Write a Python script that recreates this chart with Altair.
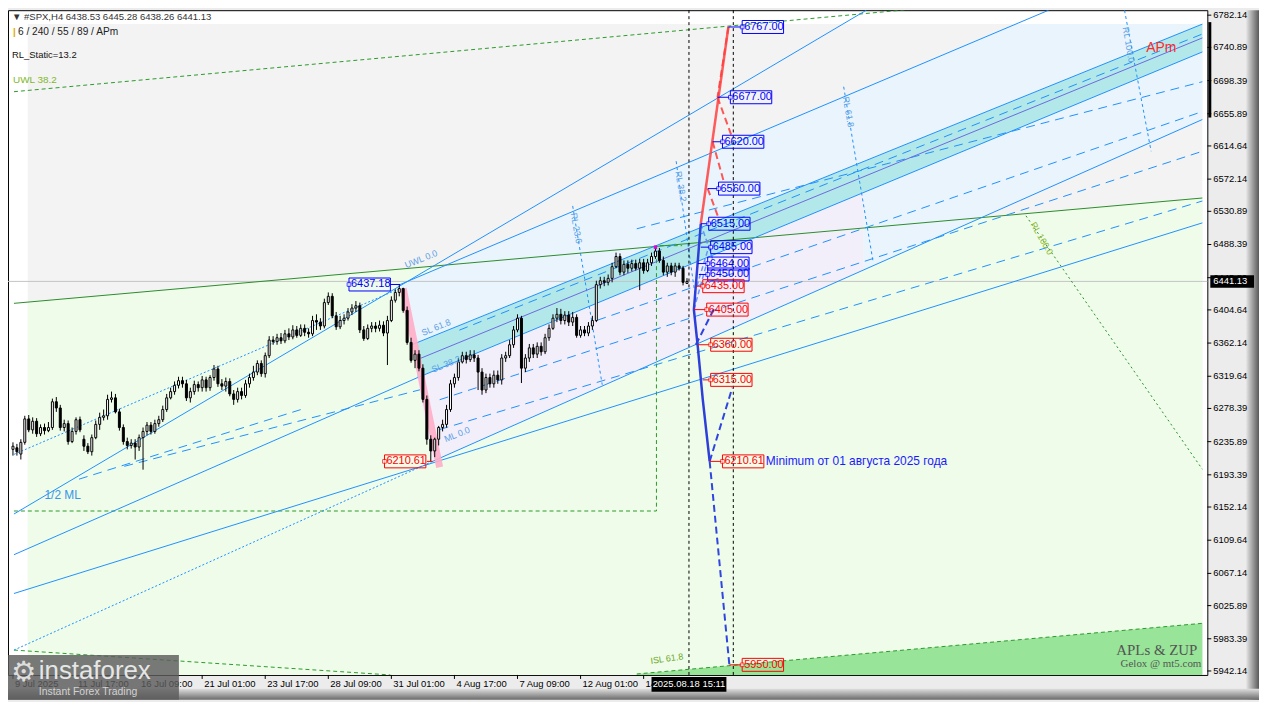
import altair as alt
import pandas as pd

# ---------------- candles: #SPX H4, bar index 0 = 9 Jul 2025 ----------------
opens = [6226, 6228, 6220, 6235, 6265, 6251, 6262, 6246, 6254, 6250,
         6254, 6287, 6279, 6254, 6259, 6236, 6249, 6264, 6239, 6230,
         6223, 6241, 6258, 6267, 6269, 6290, 6292, 6274, 6254, 6236,
         6231, 6234, 6229, 6241, 6249, 6257, 6249, 6259, 6264, 6277,
         6292, 6300, 6308, 6314, 6310, 6292, 6300, 6309, 6305, 6315,
         6305, 6318, 6329, 6310, 6307, 6313, 6297, 6290, 6300, 6295,
         6310, 6318, 6325, 6336, 6323, 6346, 6366, 6364, 6369, 6365,
         6374, 6370, 6379, 6372, 6381, 6376, 6374, 6391, 6389, 6384,
         6414, 6422, 6397, 6383, 6391, 6394, 6402, 6407, 6410, 6379,
         6368, 6381, 6384, 6381, 6385, 6375, 6391, 6417, 6427, 6432,
         6404, 6363, 6340, 6348, 6330, 6290, 6239, 6224, 6239, 6254,
         6258, 6277, 6310, 6318, 6338, 6346, 6341, 6347, 6343, 6325,
         6302, 6318, 6310, 6321, 6315, 6343, 6346, 6360, 6379, 6394,
         6330, 6343, 6356, 6348, 6358, 6351, 6369, 6381, 6394, 6399,
         6391, 6398, 6389, 6395, 6372, 6379, 6375, 6384, 6391, 6437,
         6442, 6440, 6445, 6460, 6473, 6453, 6463, 6458, 6464, 6458,
         6465, 6455, 6465, 6473, 6480, 6468, 6453, 6461, 6453, 6461,
         6458, 6438.53]
highs = [6235, 6233, 6239, 6269, 6270, 6267, 6266, 6258, 6259, 6261,
         6291, 6293, 6283, 6264, 6263, 6254, 6267, 6268, 6244, 6234,
         6245, 6263, 6273, 6277, 6296, 6300, 6297, 6278, 6258, 6241,
         6239, 6239, 6245, 6254, 6261, 6261, 6264, 6269, 6282, 6297,
         6305, 6313, 6319, 6319, 6315, 6305, 6314, 6313, 6320, 6319,
         6321, 6334, 6333, 6316, 6318, 6317, 6302, 6305, 6305, 6315,
         6323, 6333, 6340, 6340, 6350, 6371, 6371, 6374, 6375, 6379,
         6381, 6385, 6384, 6386, 6386, 6381, 6397, 6399, 6394, 6419,
         6427, 6426, 6402, 6397, 6399, 6407, 6412, 6416, 6414, 6384,
         6386, 6389, 6389, 6391, 6390, 6397, 6422, 6431, 6437.18, 6433,
         6409, 6369, 6353, 6353, 6335, 6295, 6244, 6241, 6256, 6264,
         6283, 6315, 6323, 6343, 6351, 6351, 6353, 6353, 6347, 6330,
         6323, 6323, 6327, 6327, 6348, 6351, 6366, 6384, 6399, 6397,
         6348, 6361, 6361, 6363, 6363, 6374, 6386, 6399, 6407, 6406,
         6403, 6403, 6402, 6399, 6384, 6384, 6389, 6397, 6442, 6447,
         6447, 6450, 6465, 6478, 6477, 6468, 6468, 6469, 6469, 6470,
         6470, 6470, 6478, 6485, 6484, 6473, 6465, 6465, 6465, 6465,
         6461, 6445.28]
lows = [6218, 6218, 6213, 6232, 6248, 6246, 6242, 6243, 6245, 6248,
        6251, 6274, 6250, 6249, 6232, 6234, 6245, 6248, 6224, 6220,
        6218, 6239, 6251, 6263, 6264, 6286, 6272, 6250, 6232, 6226,
        6227, 6213, 6224, 6200, 6244, 6245, 6246, 6255, 6261, 6274,
        6290, 6296, 6304, 6305, 6288, 6286, 6296, 6300, 6300, 6300,
        6301, 6314, 6306, 6302, 6300, 6294, 6283, 6286, 6290, 6292,
        6305, 6314, 6321, 6319, 6318, 6343, 6360, 6360, 6361, 6362,
        6366, 6367, 6369, 6370, 6371, 6369, 6371, 6379, 6379, 6381,
        6411, 6394, 6379, 6380, 6386, 6391, 6398, 6402, 6375, 6365,
        6366, 6376, 6376, 6377, 6371, 6334, 6389, 6414, 6422, 6401,
        6360, 6337, 6330, 6326, 6286, 6232, 6210.61, 6216, 6231, 6249,
        6254, 6274, 6305, 6314, 6336, 6336, 6338, 6338, 6302, 6296,
        6298, 6305, 6305, 6310, 6309, 6338, 6343, 6356, 6376, 6311,
        6325, 6338, 6343, 6343, 6346, 6348, 6365, 6379, 6389, 6386,
        6386, 6384, 6384, 6369, 6369, 6371, 6371, 6379, 6389, 6432,
        6435, 6436, 6440, 6458, 6449, 6449, 6452, 6454, 6455, 6430,
        6451, 6453, 6461, 6470, 6465, 6449, 6447, 6449, 6447, 6455,
        6436, 6438.26]
closes = [6230, 6223, 6235, 6265, 6251, 6262, 6246, 6254, 6250, 6254,
          6287, 6279, 6254, 6259, 6236, 6249, 6264, 6251, 6230, 6223,
          6241, 6258, 6267, 6269, 6290, 6292, 6274, 6254, 6236, 6231,
          6234, 6229, 6241, 6249, 6257, 6249, 6259, 6264, 6277, 6292,
          6300, 6308, 6314, 6310, 6292, 6300, 6309, 6305, 6315, 6305,
          6318, 6329, 6310, 6307, 6313, 6297, 6290, 6300, 6295, 6310,
          6318, 6325, 6336, 6323, 6346, 6366, 6364, 6369, 6365, 6374,
          6370, 6379, 6372, 6381, 6376, 6374, 6391, 6389, 6384, 6414,
          6422, 6397, 6383, 6391, 6394, 6402, 6407, 6410, 6379, 6368,
          6381, 6384, 6381, 6385, 6375, 6391, 6417, 6427, 6432, 6404,
          6363, 6340, 6348, 6330, 6290, 6239, 6224, 6239, 6254, 6258,
          6277, 6310, 6318, 6338, 6346, 6341, 6347, 6343, 6325, 6302,
          6318, 6310, 6321, 6315, 6343, 6346, 6360, 6379, 6394, 6330,
          6343, 6356, 6348, 6358, 6351, 6369, 6381, 6394, 6399, 6391,
          6398, 6389, 6395, 6372, 6379, 6375, 6384, 6391, 6437, 6442,
          6440, 6445, 6460, 6473, 6453, 6463, 6458, 6464, 6458, 6465,
          6455, 6465, 6473, 6480, 6468, 6453, 6461, 6453, 6461, 6458,
          6440, 6441.13]

# ---------------- axes ----------------
time_ticks = [0, 16, 32, 48, 64, 80, 96, 112, 128, 144, 160]
time_labels = ["9 Jul 2025", "11 Jul 17:00", "16 Jul 09:00", "21 Jul 01:00", "23 Jul 17:00",
               "28 Jul 09:00", "31 Jul 01:00", "4 Aug 17:00", "7 Aug 09:00", "12 Aug 01:00",
               "14 Aug 17:00"]
price_ticks = [6782.14, 6740.89, 6698.39, 6655.89, 6614.64, 6572.14, 6530.89, 6488.39,
               6445.89, 6404.64, 6362.14, 6319.64, 6278.39, 6235.89, 6193.39, 6152.14,
               6109.64, 6067.14, 6025.89, 5983.39, 5942.14]
last_price = 6441.13
cursor_time = 171.5
cursor_time_label = "2025.08.18 15:11"

X_DOMAIN = [0, 301.75]
Y_DOMAIN = [5937.05, 6788.5]

# ---------------- drawn objects (bar index, price) ----------------
blue_solid = [
    [(0.25, 6143.2), (216.5, 6788.5)],
    [(98.25, 6437.2), (262.75, 6788.5)],
    [(101, 6359.6), (301.75, 6770.7)],
    [(102.5, 6317.6), (301.75, 6735.05)],
    [(0.25, 6091.06), (102.5, 6317.6)],
    [(106.5, 6210.7), (301.75, 6648.5)],
    [(0.25, 6041.4), (301.75, 6516.1)],
]
median_line = [[(101.75, 6339.2), (301.75, 6753.0)]]
blue_dotted = [
    [(0.25, 5968.9), (106.5, 6210.7)],
    [(0.25, 6219.6), (98.25, 6432.2)],
]
blue_dashed = [
    [(108.25, 6289.6), (301.75, 6607.8)],
    [(108.25, 6251.4), (301.75, 6544.1)],
    [(148.25, 6391.4), (301.75, 6658.7)],
    [(158.25, 6508.5), (301.75, 6696.9)],
    [(28.25, 6204.3), (103.25, 6302.3)],
    [(16.75, 6187.8), (73, 6276.9)],
    [(113.25, 6378.7), (301.75, 6758.0)],
]
reaction_lines = [
    [(142, 6537.8), (149.5, 6308.7)],
    [(168.25, 6595.1), (173.25, 6416.9)],
    [(210.75, 6690.5), (218.25, 6465.2)],
    [(282, 6788.5), (288.75, 6607.8)],
]
green_solid = [[(0.25, 6413.05), (301.75, 6547.96)]]
green_dashed = [
    [(0.25, 6684.1), (228.25, 6789.8)],
    [(0.25, 5968.9), (95.75, 5937.05)],
    [(158.25, 5938.3), (301.75, 6003.2)],
    [(0.25, 6147.05), (163.25, 6147.05), (163.25, 6486.9), (169.75, 6486.9)],
]
green_dotted = [[(257, 6525.1), (301.75, 6200.5)]]
drop_leg = [[(99, 6432.2), (108.25, 6203.1)]]

zup_red_solid = [[(174.5, 6515), (181.5, 6767)]]
zup_red_dashed = [
    [(181.5, 6767), (178.75, 6677)],
    [(178.75, 6677), (182.5, 6625)],
    [(177.5, 6620), (180.5, 6566)],
    [(176.25, 6560), (179.25, 6519)],
]
zup_blue_solid = [[(174.5, 6515), (172.75, 6405), (173.75, 6357), (175, 6290), (176.75, 6210.61)]]
zup_blue_dashed = [
    [(176.75, 6210.61), (182.5, 6305)],
    [(176.75, 6210.61), (181.75, 5950)],
    [(173.25, 6360), (178.25, 6410)],
]
zup_light_dashed = [
    [(172.75, 6405), (176, 6464)],
    [(174.5, 6515), (177.5, 6470)],
    [(173.5, 6435), (176.5, 6485)],
]

# regions: (bar index, upper price, lower price)
grey_zone = [(3.75, 6770.7, 5937.05), (301.75, 6770.7, 5937.05)]
green_zone = [(3.75, 6414.6, 5937.05), (301.75, 6548.0, 5937.05)]
blue_zone_up = [(98.25, 6437.2, 6437.2), (101, 6443.1, 6359.6), (253.9, 6770.7, 6672.9), (301.75, 6770.7, 6770.7)]
lavender_zone = [(102.5, 6317.6, 6317.6), (106.5, 6326.0, 6210.7), (215.75, 6554.6, 6455.4)]
blue_zone_low = [(215.75, 6554.6, 6455.4), (301.75, 6735.05, 6648.5)]
cyan_band = [(102.5, 6362.65, 6317.6), (301.75, 6770.7, 6735.05)]
green_fill = [(158.25, 5938.3, 5937.05), (301.75, 6003.2, 5937.05)]

# price labels of the ZUP projection
label_prices = [6767.00, 6677.00, 6620.00, 6560.00, 6515.00, 6485.00, 6464.00, 6450.00, 6437.18,
                6435.00, 6405.00, 6360.00, 6315.00, 6210.61, 6210.61, 5950.00]
label_times = [185, 182, 180, 179, 176.5, 177, 176.25, 176.25, 85.25,
               175, 176, 177, 177, 180, 94.25, 185]
label_from = [181.5, 178.75, 177.5, 176.25, 174.5, 174.5, 173.75, 174, 95.75,
              173.25, 172.75, 173.75, 175, 176.75, 105, 181.75]
label_to = [185, 182, 180, 179, 176.5, 177, 176.25, 176.25, 98.25,
            175, 176, 177, 177, 180, 106.5, 185]
label_colors = ["#0000ff"] * 9 + ["#ff0000"] * 7

level_texts = ["UWL 0.0", "SL 61.8", "SL 38.2", "ML 0.0", "RL 23.6", "RL 38.2", "RL 61.8", "RL 100.0",
               "RL 100.0", "ISL 61.8"]
level_x = [99.5, 103.75, 106.25, 109.5, 142.25, 168.75, 211.25, 282.25, 258.75, 161.75]
level_y = [6461.4, 6374.9, 6327.8, 6238.7, 6528.9, 6582.3, 6677.8, 6766.9, 6516.1, 5954.9]
level_angle = [338, 338, 338, 338, 80, 80, 80, 80, 60, 352]
level_color = ["#5aa0e6"] * 8 + ["#8ab828", "#6aa81e"]

# ---------------- helpers ----------------
xs = alt.Scale(domain=X_DOMAIN, nice=False, zero=False)
ys = alt.Scale(domain=Y_DOMAIN, nice=False, zero=False)
FONT = "Liberation Sans"
PLOT_W, PLOT_H = 1207, 669


def X(f):
    return alt.X(f, scale=xs, axis=None)


def Y(f):
    return alt.Y(f, scale=ys, axis=None)


def paths_df(paths):
    rows = []
    for k, pts in enumerate(paths):
        for j, (x, p) in enumerate(pts):
            rows.append({"seg": k, "ord": j, "x": x, "p": p})
    return pd.DataFrame(rows)


def lines(paths, color, width=1.0, dash=None, opacity=1.0, cap="butt"):
    kw = dict(color=color, strokeWidth=width, clip=True, opacity=opacity, strokeCap=cap)
    if dash:
        kw["strokeDash"] = dash
    return alt.Chart(paths_df(paths)).mark_line(**kw).encode(
        x=X("x:Q"), y=Y("p:Q"), detail="seg:N", order="ord:Q")


def zone(rows, color, opacity=1.0):
    df = pd.DataFrame(rows, columns=["x", "top", "bot"])
    return alt.Chart(df).mark_area(color=color, opacity=opacity, clip=True, orient="vertical",
                                   interpolate="linear").encode(
        x=X("x:Q"), y=Y("top:Q"), y2="bot:Q")


def pixel_text(text, x, y, size=9.5, color="black", align="left", font=FONT, weight="normal"):
    return alt.Chart(pd.DataFrame({"t": [text]})).mark_text(
        align=align, baseline="middle", fontSize=size, color=color, font=font, fontWeight=weight
    ).encode(x=alt.value(x), y=alt.value(y), text="t:N")


def pixel_rect(x, x2, y, y2, color, opacity=1.0):
    return alt.Chart(pd.DataFrame({"a": [0]})).mark_rect(color=color, opacity=opacity).encode(
        x=alt.value(x), x2=alt.value(x2), y=alt.value(y), y2=alt.value(y2))


# ---------------- layers ----------------
layers = []

# window frame shading
grad_r = alt.Gradient(gradient="linear", x1=0, y1=0, x2=1, y2=0,
                      stops=[alt.GradientStop(color="#e6e6e6", offset=0), alt.GradientStop(color="#5a5a5a", offset=1)])
grad_b = alt.Gradient(gradient="linear", x1=0, y1=0, x2=0, y2=1,
                      stops=[alt.GradientStop(color="#dedede", offset=0), alt.GradientStop(color="#6a6a6a", offset=1)])
layers.append(pixel_rect(1246, 1259, 0, 694, grad_r))
layers.append(pixel_rect(0, 1259, 683, 694, grad_b))

grey_df = pd.DataFrame({"x": [grey_zone[0][0]], "x2": [grey_zone[1][0]],
                        "top": [grey_zone[0][1]], "bot": [grey_zone[0][2]]})
layers.append(alt.Chart(grey_df).mark_rect(color="#f3f3f3").encode(
    x=X("x:Q"), x2="x2:Q", y=Y("top:Q"), y2="bot:Q"))
layers.append(zone(green_zone, "#effcea"))
layers.append(zone(blue_zone_up, "#eaf4fc"))
layers.append(zone(lavender_zone, "#f3effa"))
layers.append(zone(blue_zone_low, "#eaf4fc"))
layers.append(zone(cyan_band, "#b3e8ea"))
layers.append(zone(green_fill, "#98e498"))

# current price line
layers.append(alt.Chart(pd.DataFrame({"p": [last_price]})).mark_rule(color="#c4c4c4", strokeWidth=1).encode(
    y=Y("p:Q")))

layers.append(lines(green_solid, "#2a8c2a", 1))
layers.append(lines(green_dashed, "#2a9a2a", 1, dash=[4, 3]))
layers.append(lines(green_dotted, "#2a8c2a", 1, dash=[2, 3]))
layers.append(lines(blue_dashed, "#1e90ff", 1, dash=[9, 6]))
layers.append(lines(blue_dotted, "#1e90ff", 1, dash=[2, 2]))
layers.append(lines(reaction_lines, "#1e90ff", 1, dash=[3, 3]))
layers.append(lines(blue_solid, "#1e90ff", 1))
layers.append(lines(median_line, "#6a6ae0", 1))
layers.append(lines(drop_leg, "#ffadc6", 7, opacity=0.9))

# dotted time verticals
layers.append(alt.Chart(pd.DataFrame({"x": [171.5, 182.75]})).mark_rule(
    color="black", strokeDash=[3, 3], strokeWidth=1).encode(x=X("x:Q")))

# candles
cdf = pd.DataFrame({"i": list(range(len(opens))), "o": opens, "h": highs, "l": lows, "c": closes})
cdf["dir"] = ["up" if c >= o else "down" for o, c in zip(opens, closes)]
layers.append(alt.Chart(cdf).mark_rule(color="black", strokeWidth=1).encode(
    x=X("i:Q"), y=Y("l:Q"), y2="h:Q"))
layers.append(alt.Chart(cdf).mark_bar(width=2, stroke="black", strokeWidth=1).encode(
    x=X("i:Q"), y=Y("o:Q"), y2="c:Q",
    fill=alt.Fill("dir:N", scale=alt.Scale(domain=["up", "down"], range=["white", "black"]), legend=None)))

# peak marker
layers.append(alt.Chart(pd.DataFrame({"x": [163], "p": [6485]})).mark_square(
    size=12, color="#e000e0", opacity=1).encode(x=X("x:Q"), y=Y("p:Q")))

# ZUP projection
layers.append(lines(zup_light_dashed, "#5a8cff", 1.5, dash=[5, 3], opacity=0.9))
layers.append(lines(zup_blue_dashed, "#2f45e0", 2, dash=[7, 4]))
layers.append(lines(zup_red_dashed, "#ff4545", 2, dash=[7, 4], opacity=0.9))
layers.append(lines(zup_red_solid, "#ff4040", 2.5, opacity=0.85))
layers.append(lines(zup_blue_solid, "#2c3fd8", 2.5))

# labels
ldf = pd.DataFrame({"p": label_prices, "x": label_times, "xf": label_from, "xt": label_to,
                    "col": label_colors, "t": [f"{v:.2f}" for v in label_prices]})
layers.append(alt.Chart(ldf).mark_rule(strokeWidth=1).encode(
    x=X("xf:Q"), x2="xt:Q", y=Y("p:Q"), color=alt.Color("col:N", scale=None)))
layers.append(alt.Chart(ldf).transform_calculate(
    x2="datum.x + 10.5", top="datum.p + 8.3", bot="datum.p - 8.3"
).mark_rect(fillOpacity=0, strokeWidth=1).encode(
    x=X("x:Q"), x2="x2:Q", y=Y("top:Q"), y2="bot:Q", stroke=alt.Stroke("col:N", scale=None)))
layers.append(alt.Chart(ldf).mark_square(size=14, filled=True, color="white", strokeWidth=1).encode(
    x=X("x:Q"), y=Y("p:Q"), stroke=alt.Stroke("col:N", scale=None)))
layers.append(alt.Chart(ldf).mark_text(align="left", baseline="middle", dx=2, fontSize=11, font=FONT).encode(
    x=X("x:Q"), y=Y("p:Q"), text="t:N", color=alt.Color("col:N", scale=None)))

# level texts
lvl = pd.DataFrame({"t": level_texts, "x": level_x, "p": level_y, "a": level_angle, "col": level_color})
for k in range(len(lvl)):
    layers.append(alt.Chart(lvl.iloc[[k]]).mark_text(
        align="left", baseline="middle", fontSize=9, font=FONT, angle=int(lvl["a"].iloc[k])).encode(
        x=X("x:Q"), y=Y("p:Q"), text="t:N", color=alt.Color("col:N", scale=None)))

# other annotations in data space
ann = pd.DataFrame({
    "t": ["Minimum от 01 августа 2025 года", "APm", "1/2 ML", "UWL 38.2"],
    "x": [191, 287.5, 8, 0],
    "p": [6210.7, 6740.1, 6167.4, 6699.4],
    "col": ["#1a1aff", "#ff2a2a", "#3a96e6", "#7fb82a"],
    "s": [12, 14, 12, 10],
})
for k in range(len(ann)):
    layers.append(alt.Chart(ann.iloc[[k]]).mark_text(
        align="left", baseline="middle", font=FONT, fontSize=float(ann["s"].iloc[k])).encode(
        x=X("x:Q"), y=Y("p:Q"), text="t:N", color=alt.Color("col:N", scale=None)))

# header texts
layers.append(pixel_text("▼  #SPX,H4  6438.53 6445.28 6438.26 6441.13", 4, 7, size=9.6, color="#333333"))
layers.append(pixel_text("|", 5, 22, size=10, color="#e0b000", weight="bold"))
layers.append(pixel_text("6 / 240 / 55 / 89 / APm", 10, 22, size=10.2, color="#222222"))
layers.append(pixel_text("RL_Static=13.2", 4, 45, size=9.5, color="#111111"))
layers.append(pixel_text("APLs & ZUP", 1197, 644, size=15, color="#555555", align="right", font="Liberation Serif"))
layers.append(pixel_text("Gelox @ mt5.com", 1201, 658, size=11, color="#555555", align="right", font="Liberation Serif"))

# ---- price scale (right) and time scale (bottom), positioned by the scales ----
pt = pd.DataFrame({"p": price_ticks, "t": [f"{v:.2f}" for v in price_ticks]})
layers.append(alt.Chart(pt).mark_rule(color="black", strokeWidth=1).encode(
    x=alt.value(PLOT_W), x2=alt.value(PLOT_W + 4), y=Y("p:Q")))
layers.append(alt.Chart(pt).mark_text(align="left", baseline="middle", fontSize=9.5, font=FONT, color="black").encode(
    x=alt.value(PLOT_W + 6), y=Y("p:Q"), text="t:N"))
tt = pd.DataFrame({"x": time_ticks, "t": time_labels})
layers.append(alt.Chart(tt).mark_rule(color="black", strokeWidth=1).encode(
    x=X("x:Q"), y=alt.value(PLOT_H), y2=alt.value(PLOT_H + 4)))
layers.append(alt.Chart(tt).mark_text(align="left", baseline="middle", dx=2, fontSize=9.5, font=FONT, color="black").encode(
    x=X("x:Q"), y=alt.value(PLOT_H + 9), text="t:N"))

# right scale marker bar, price box, time box
layers.append(pixel_rect(1208, 1211, 12, 108, "black"))
pb = pd.DataFrame({"p": [last_price], "t": [f"{last_price:.2f}"]})
layers.append(alt.Chart(pb).transform_calculate(top="datum.p + 8", bot="datum.p - 8").mark_rect(
    color="black").encode(x=alt.value(1210), x2=alt.value(1254), y=Y("top:Q"), y2="bot:Q"))
layers.append(alt.Chart(pb).mark_text(align="left", baseline="middle", color="white", fontSize=9.5, font=FONT).encode(
    x=alt.value(1213), y=Y("p:Q"), text="t:N"))
tb = pd.DataFrame({"x": [cursor_time], "t": [cursor_time_label]})
layers.append(alt.Chart(tb).transform_calculate(a="datum.x - 9.5", b="datum.x + 9.5").mark_rect(
    color="black").encode(x=X("a:Q"), x2="b:Q", y=alt.value(671), y2=alt.value(686)))
layers.append(alt.Chart(tb).mark_text(align="center", baseline="middle", color="white", fontSize=9.5, font=FONT).encode(
    x=X("x:Q"), y=alt.value(678.5), text="t:N"))

# instaforex logo
layers.append(pixel_rect(0, 172, 649, 694, "#5c5c5c", 0.82))
layers.append(pixel_text("⚙", 3, 667, size=28, color="#dddddd", font="DejaVu Sans"))
layers.append(pixel_text("instaforex", 31, 665, size=26, color="#e6e6e6"))
layers.append(pixel_text("Instant Forex Trading", 31, 686, size=10.5, color="#d2d2d2"))

chart = alt.layer(*layers).properties(
    width=PLOT_W, height=PLOT_H,
    autosize=alt.AutoSizeParams(type="none"),
    padding={"left": 0, "top": 0, "right": 52, "bottom": 25},
    background="#ececec",
).configure_view(fill="white", stroke="black", strokeWidth=1)

chart.save("out.html", embed_options={"renderer": "svg", "actions": False})
